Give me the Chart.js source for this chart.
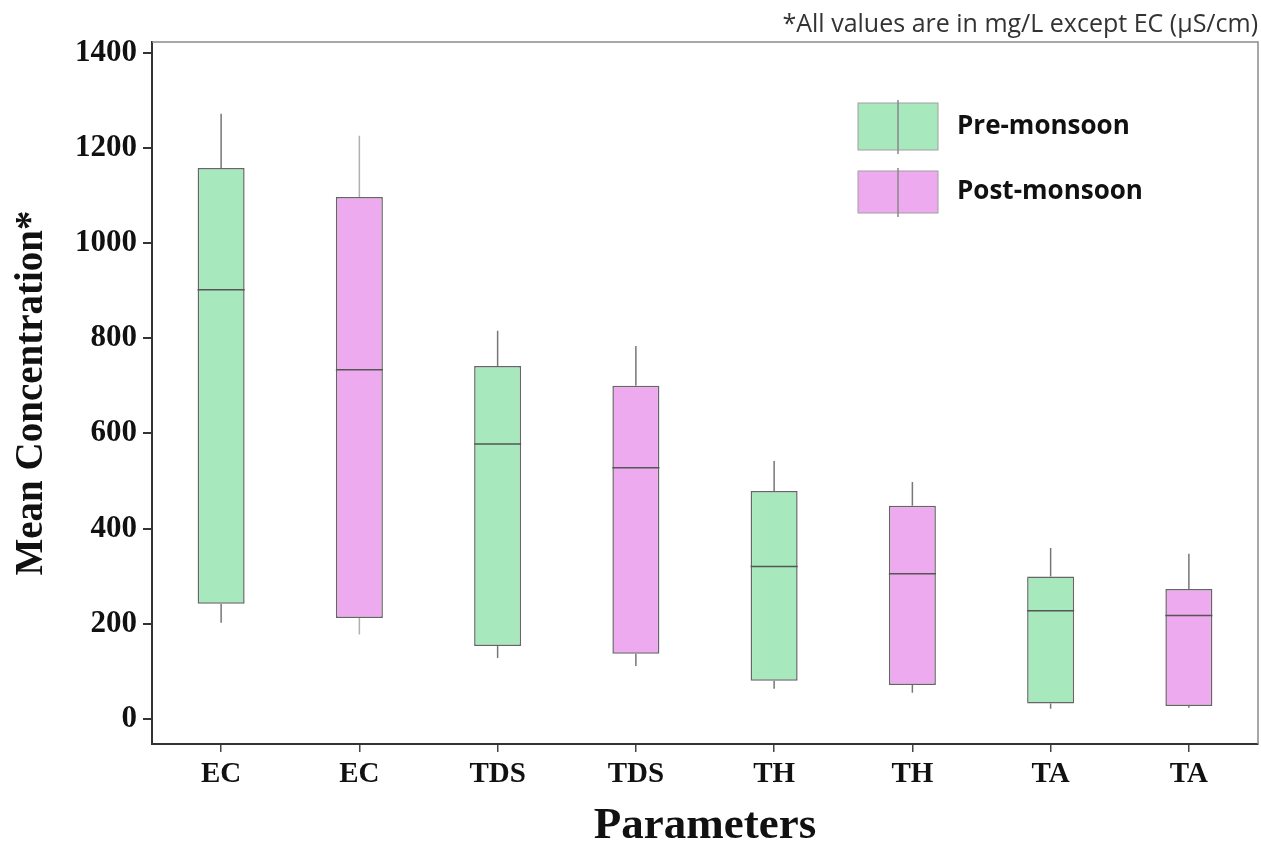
<!DOCTYPE html>
<html>
<head>
<meta charset="utf-8">
<script src="https://cdn.jsdelivr.net/npm/chart.js@4"></script>
<style>
  html, body { margin: 0; padding: 0; background: #fff; }
  #wrap { width: 1261px; height: 847px; }
</style>
</head>
<body>
<div id="wrap"><canvas id="boxChart"></canvas></div>
<script>
const categories = ['EC', 'EC', 'TDS', 'TDS', 'TH', 'TH', 'TA', 'TA'];
const seasons = ['Pre-monsoon', 'Post-monsoon', 'Pre-monsoon', 'Post-monsoon', 'Pre-monsoon', 'Post-monsoon', 'Pre-monsoon', 'Post-monsoon'];
const whiskerMin = [202, 177, 128, 111, 63, 55, 21, 23];
const q1 = [242, 212, 153, 137, 80, 71, 32, 27];
const median = [902, 734, 578, 528, 320, 305, 227, 217];
const q3 = [1158, 1097, 742, 700, 479, 448, 299, 273];
const whiskerMax = [1272, 1226, 816, 784, 542, 498, 359, 347];
const legendLabels = ['Pre-monsoon', 'Post-monsoon'];

const seasonFill = { 'Pre-monsoon': '#a8e8bd', 'Post-monsoon': '#eeaaee' };

const boxExtras = {
  id: 'boxExtras',
  afterDatasetsDraw(chart) {
    const ctx = chart.ctx;
    const x = chart.scales.x;
    const y = chart.scales.y;
    const meta = chart.getDatasetMeta(0);
    ctx.save();
    categories.forEach((c, i) => {
      const bar = meta.data[i];
      const cx = x.getPixelForValue(i);
      const half = bar.width / 2;
      // whiskers
      ctx.strokeStyle = i === 1 ? '#b0b0b0' : '#777';
      ctx.lineWidth = 1.5;
      ctx.beginPath();
      ctx.moveTo(cx, y.getPixelForValue(q3[i]));
      ctx.lineTo(cx, y.getPixelForValue(whiskerMax[i]));
      ctx.moveTo(cx, y.getPixelForValue(q1[i]));
      ctx.lineTo(cx, y.getPixelForValue(whiskerMin[i]));
      ctx.stroke();
      // median
      ctx.strokeStyle = '#555';
      ctx.beginPath();
      ctx.moveTo(cx - half, y.getPixelForValue(median[i]));
      ctx.lineTo(cx + half, y.getPixelForValue(median[i]));
      ctx.stroke();
    });
    ctx.restore();
  },
  afterDraw(chart) {
    const ctx = chart.ctx;
    const a = chart.chartArea;
    ctx.save();
    // top and right frame
    ctx.strokeStyle = '#8a8a8a';
    ctx.lineWidth = 1.5;
    ctx.beginPath();
    ctx.moveTo(a.left, a.top);
    ctx.lineTo(a.right, a.top);
    ctx.lineTo(a.right, a.bottom);
    ctx.stroke();
    // legend
    const bx = a.right - 400;
    legendLabels.forEach((lab, k) => {
      const by = a.top + 61 + k * 68;
      const h = k === 0 ? 47 : 42;
      ctx.fillStyle = seasonFill[lab];
      ctx.fillRect(bx, by, 80, h);
      ctx.strokeStyle = '#a0a0a0';
      ctx.lineWidth = 1;
      ctx.strokeRect(bx, by, 80, h);
      ctx.strokeStyle = '#888';
      ctx.lineWidth = 1.5;
      ctx.beginPath();
      ctx.moveTo(bx + 40, by - 3);
      ctx.lineTo(bx + 40, by + h + 4);
      ctx.stroke();
      ctx.fillStyle = '#111';
      ctx.font = 'bold 26px "Open Sans", sans-serif';
      ctx.textBaseline = 'middle';
      ctx.textAlign = 'left';
      ctx.fillText(lab, bx + 99, by + h / 2);
    });
    ctx.restore();
  }
};

const ctx = document.getElementById('boxChart').getContext('2d');
new Chart(ctx, {
  type: 'bar',
  data: {
    labels: categories,
    datasets: [{
      data: categories.map((c, i) => [q1[i], q3[i]]),
      backgroundColor: seasons.map(s => seasonFill[s]),
      borderColor: '#666',
      borderWidth: 1.5,
      borderSkipped: false,
      categoryPercentage: 1,
      barPercentage: 0.34
    }]
  },
  options: {
    responsive: true,
    maintainAspectRatio: false,
    animation: false,
    layout: { padding: { right: 3 } },
    plugins: {
      legend: { display: false },
      tooltip: { enabled: false },
      title: {
        display: true,
        text: '*All values are in mg/L except EC (µS/cm)',
        align: 'end',
        color: '#333',
        font: { family: '"Open Sans", sans-serif', size: 25, weight: 'normal', lineHeight: 1.2 },
        padding: { top: 10, bottom: 2 }
      }
    },
    scales: {
      x: {
        afterFit(s) { s.height = 103; },
        grid: { display: true, drawOnChartArea: false, offset: false, tickLength: 8, tickColor: '#444', lineWidth: 1.5 },
        border: { color: '#333', width: 2 },
        ticks: {
          color: '#111', padding: 5,
          font: { family: '"Liberation Serif", "Times New Roman", serif', size: 29, weight: 'bold' }
        },
        title: {
          display: true, text: 'Parameters', color: '#111',
          font: { family: '"Liberation Serif", "Times New Roman", serif', size: 45, weight: 'bold', lineHeight: 0.9 },
          padding: { top: 0, bottom: 0 }
        }
      },
      y: {
        min: -53,
        max: 1423,
        afterFit(s) { s.width = 152; },
        grid: { display: true, drawOnChartArea: false, tickLength: 9, tickColor: '#333', lineWidth: 2 },
        border: { color: '#333', width: 2 },
        ticks: {
          stepSize: 200, includeBounds: false, color: '#111', padding: 6,
          callback: v => String(v),
          font: { family: '"Liberation Serif", "Times New Roman", serif', size: 31, weight: 'bold' }
        },
        title: {
          display: true, text: 'Mean Concentration*', color: '#111',
          font: { family: '"Liberation Serif", "Times New Roman", serif', size: 39, weight: 'bold', lineHeight: 1.2 },
          padding: { top: 9, bottom: 0 }
        }
      }
    }
  },
  plugins: [boxExtras]
});
</script>
</body>
</html>
